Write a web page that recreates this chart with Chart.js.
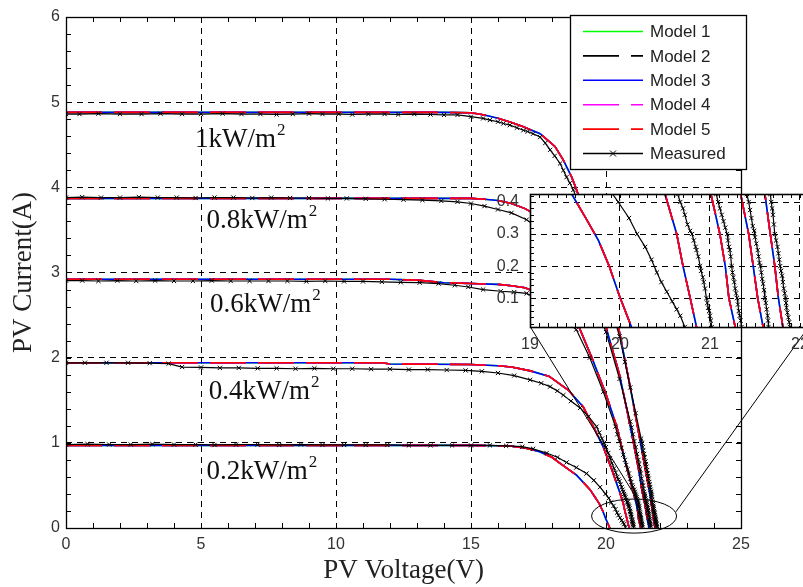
<!DOCTYPE html>
<html>
<head>
<meta charset="utf-8">
<title>PV I-V curves</title>
<script src="https://cdn.jsdelivr.net/npm/chart.js@4.4.1/dist/chart.umd.min.js"></script>
<style>
  html, body { margin: 0; padding: 0; overflow: hidden; background: #fff; }
  #wrap { position: relative; width: 803px; height: 587px; overflow: hidden; }
  #main { position: absolute; left: 0; top: 0; }
  #inset { position: absolute; left: 480px; top: 170px; }
</style>
</head>
<body>
<div id="wrap">
  <canvas id="main" width="803" height="587"></canvas>
  <canvas id="inset" width="340" height="190"></canvas>
</div>
<script>
// data, [voltage (V), current (A)]

// model curves (the five models sit on top of each other)
const model1000 = [[0,4.88],[5,4.88],[10,4.88],[14,4.88],[15,4.875],[15.5,4.85],[16,4.81],[16.5,4.76],[16.94,4.71],[17.56,4.63],[18.11,4.48],[18.42,4.32],[18.73,4.12],[18.91,3.97],[19.3,3.62],[19.7,3.22],[20.1,2.78],[20.5,2.3],[20.9,1.65],[21.25,1.05],[21.45,0.7],[21.61,0.425],[21.67,0.3],[21.72,0.2],[21.76,0.1],[21.81,0.01],[21.82,0]];
const model800 = [[0,3.87],[5,3.87],[10,3.87],[15,3.87],[15.5,3.86],[16,3.845],[16.5,3.81],[17,3.75],[17.5,3.66],[18,3.52],[18.5,3.33],[19,3.08],[19.5,2.76],[20,2.36],[20.5,1.8],[20.8,1.35],[21.05,0.95],[21.2,0.7],[21.34,0.425],[21.43,0.3],[21.48,0.2],[21.53,0.1],[21.59,0.01],[21.6,0]];
const model600 = [[0,2.92],[5,2.92],[10,2.92],[12,2.92],[13,2.91],[14,2.88],[15,2.87],[16,2.86],[16.5,2.845],[17,2.82],[17.5,2.76],[18,2.67],[18.5,2.53],[19,2.36],[19.5,1.98],[20,1.57],[20.4,1.19],[20.7,0.8],[21.01,0.425],[21.11,0.3],[21.17,0.2],[21.21,0.1],[21.28,0.01],[21.29,0]];
const model400 = [[0,1.94],[5,1.94],[10,1.94],[11.7,1.94],[12,1.925],[15,1.92],[16,1.905],[16.5,1.89],[17.2,1.845],[17.9,1.78],[18.6,1.62],[19.16,1.42],[19.53,1.19],[19.9,0.95],[20.2,0.7],[20.5,0.425],[20.63,0.3],[20.7,0.2],[20.78,0.1],[20.85,0.01],[20.86,0]];
const model200 = [[0,0.97],[5,0.97],[10,0.97],[15,0.97],[16,0.965],[16.5,0.96],[17,0.94],[17.5,0.9],[18,0.83],[18.3,0.76],[18.91,0.62],[19.41,0.45],[19.62,0.35],[19.76,0.28],[19.88,0.2],[19.99,0.11],[20.1,0.03],[20.14,0]];

// measured points (very dense near open circuit)
const meas1000 = [[0,4.86],[0.5,4.86],[1.2,4.865],[2.0,4.86],[2.8,4.86],[3.5,4.865],[4.3,4.86],[5.0,4.86],[5.8,4.865],[6.5,4.86],[7.2,4.86],[7.8,4.855],[8.4,4.86],[9.0,4.865],[9.5,4.86],[10.1,4.86],[10.6,4.855],[11.2,4.86],[11.8,4.86],[12.3,4.855],[12.9,4.86],[13.5,4.855],[14.0,4.85],[14.5,4.85],[15.0,4.83],[15.45,4.81],[15.7,4.79],[16.0,4.77],[16.2,4.75],[16.44,4.73],[16.7,4.7],[16.94,4.67],[17.1,4.655],[17.3,4.63],[17.56,4.59],[17.75,4.52],[17.93,4.44],[18.1,4.37],[18.3,4.28],[18.42,4.2],[18.54,4.12],[18.66,4.05],[18.79,3.97],[19.0,3.8],[19.2,3.6],[19.4,3.4],[19.6,3.2],[19.8,3.0],[20.0,2.78],[20.25,2.52],[20.5,2.25],[20.7,1.95],[20.9,1.65],[21.1,1.35],[21.3,1.05],[21.33,1.0],[21.36,0.95],[21.38,0.91],[21.41,0.87],[21.43,0.83],[21.46,0.78],[21.48,0.75],[21.5,0.72],[21.52,0.68],[21.54,0.64],[21.56,0.61],[21.58,0.58],[21.6,0.54],[21.62,0.51],[21.635,0.48],[21.65,0.45],[21.67,0.425],[21.68,0.4],[21.69,0.38],[21.7,0.36],[21.71,0.33],[21.72,0.3],[21.735,0.28],[21.75,0.26],[21.76,0.24],[21.77,0.22],[21.78,0.2],[21.79,0.185],[21.8,0.17],[21.81,0.15],[21.82,0.13],[21.83,0.115],[21.84,0.1],[21.845,0.085],[21.85,0.07],[21.86,0.055],[21.87,0.04],[21.88,0.025],[21.89,0.01]];
const meas800 = [[0,3.88],[0.6,3.885],[1.3,3.88],[2.0,3.88],[2.7,3.885],[3.4,3.88],[4.1,3.88],[4.8,3.875],[5.5,3.88],[6.2,3.88],[6.9,3.875],[7.6,3.88],[8.3,3.875],[9.0,3.875],[9.7,3.87],[10.4,3.87],[11.1,3.865],[11.8,3.86],[12.5,3.855],[13.2,3.85],[13.9,3.84],[14.5,3.83],[15.0,3.81],[15.5,3.78],[16.0,3.74],[16.5,3.7],[17.06,3.62],[17.5,3.52],[18.0,3.38],[18.5,3.2],[19.0,2.98],[19.5,2.68],[20.0,2.3],[20.5,1.75],[20.9,1.25],[20.95,1.18],[21.0,1.1],[21.05,1.02],[21.1,0.95],[21.15,0.87],[21.2,0.8],[21.23,0.75],[21.26,0.69],[21.29,0.64],[21.32,0.58],[21.35,0.53],[21.37,0.5],[21.39,0.46],[21.41,0.425],[21.43,0.4],[21.445,0.375],[21.46,0.35],[21.475,0.325],[21.49,0.31],[21.5,0.29],[21.515,0.27],[21.53,0.25],[21.54,0.23],[21.55,0.21],[21.56,0.2],[21.57,0.18],[21.58,0.16],[21.59,0.145],[21.6,0.125],[21.61,0.1],[21.62,0.085],[21.63,0.065],[21.64,0.045],[21.645,0.03],[21.65,0.01]];
const meas600 = [[0,2.905],[0.6,2.905],[1.2,2.9],[1.9,2.905],[2.6,2.9],[3.3,2.905],[4.0,2.9],[4.7,2.9],[5.4,2.905],[6.1,2.9],[6.8,2.9],[7.5,2.9],[8.2,2.9],[8.9,2.895],[9.6,2.9],[10.3,2.895],[11.0,2.895],[11.7,2.89],[12.4,2.885],[13.1,2.88],[13.8,2.87],[14.4,2.85],[14.9,2.83],[15.45,2.8],[16.1,2.78],[16.6,2.77],[17.06,2.755],[17.5,2.68],[18.0,2.56],[18.5,2.43],[18.9,2.33],[19.4,2.0],[19.9,1.6],[20.35,1.19],[20.42,1.1],[20.5,1.02],[20.57,0.94],[20.64,0.86],[20.7,0.8],[20.75,0.74],[20.8,0.69],[20.85,0.64],[20.9,0.58],[20.94,0.54],[20.97,0.5],[21.0,0.48],[21.04,0.45],[21.07,0.425],[21.09,0.4],[21.11,0.38],[21.13,0.36],[21.15,0.34],[21.17,0.32],[21.19,0.3],[21.2,0.28],[21.21,0.26],[21.22,0.25],[21.23,0.23],[21.24,0.2],[21.25,0.18],[21.26,0.165],[21.27,0.15],[21.28,0.13],[21.29,0.115],[21.3,0.1],[21.31,0.08],[21.32,0.06],[21.33,0.045],[21.34,0.03],[21.35,0.01]];
const meas400 = [[0,1.94],[0.7,1.94],[1.5,1.94],[2.3,1.94],[3.1,1.935],[3.8,1.93],[4.3,1.89],[5.0,1.885],[5.7,1.88],[6.4,1.88],[7.1,1.875],[7.8,1.875],[8.5,1.87],[9.2,1.875],[9.9,1.87],[10.6,1.87],[11.3,1.865],[12.0,1.865],[12.7,1.86],[13.4,1.86],[14.1,1.855],[14.8,1.85],[15.4,1.84],[16.0,1.82],[16.6,1.79],[17.19,1.74],[17.6,1.7],[17.93,1.66],[18.2,1.61],[18.42,1.56],[18.7,1.49],[19.04,1.41],[19.35,1.31],[19.65,1.19],[19.75,1.12],[19.85,1.05],[19.93,1.0],[20.0,0.95],[20.08,0.88],[20.15,0.82],[20.22,0.76],[20.3,0.7],[20.36,0.65],[20.42,0.6],[20.46,0.57],[20.5,0.55],[20.54,0.51],[20.58,0.48],[20.61,0.45],[20.64,0.425],[20.67,0.4],[20.7,0.38],[20.72,0.36],[20.75,0.33],[20.78,0.31],[20.8,0.3],[20.82,0.28],[20.84,0.26],[20.85,0.25],[20.87,0.23],[20.89,0.2],[20.9,0.185],[20.92,0.165],[20.93,0.15],[20.945,0.13],[20.96,0.1],[20.97,0.085],[20.98,0.07],[20.99,0.06],[21.0,0.045],[21.01,0.03],[21.02,0.01]];
const meas200 = [[0,0.98],[0.8,0.985],[1.6,0.98],[2.4,0.98],[3.2,0.985],[4.0,0.98],[4.8,0.98],[5.5,0.975],[6.3,0.98],[7.1,0.98],[7.9,0.975],[8.7,0.98],[9.5,0.975],[10.3,0.975],[11.1,0.975],[11.9,0.975],[12.7,0.97],[13.5,0.97],[14.3,0.97],[15.0,0.97],[15.7,0.97],[16.3,0.965],[16.9,0.955],[17.3,0.93],[17.8,0.88],[18.2,0.83],[18.54,0.77],[18.9,0.71],[19.28,0.64],[19.55,0.56],[19.78,0.48],[19.98,0.4],[20.1,0.35],[20.19,0.3],[20.28,0.26],[20.35,0.22],[20.41,0.18],[20.46,0.15],[20.52,0.12],[20.58,0.09],[20.63,0.065],[20.67,0.045],[20.72,0.01]];

const levelLabels = ['1kW/m', '0.8kW/m', '0.6kW/m', '0.4kW/m', '0.2kW/m'];
const mainXTicks = [0, 5, 10, 15, 20, 25];
const mainYTicks = [0, 1, 2, 3, 4, 5, 6];
const insetXTicks = [19, 20, 21, 22];
const insetYTicks = [0.1, 0.2, 0.3, 0.4];

// where the irradiance labels sit, [V, A] of the text baseline start
const labelPos = [[4.78, 4.47], [5.2, 3.52], [5.33, 2.54], [5.29, 1.515], [5.2, 0.575]];

const modelStyles = [
  { label: 'Model 1', color: '#00ff00', dash: [] },
  { label: 'Model 2', color: '#000000', dash: [36, 12] },
  { label: 'Model 3', color: '#0000ff', dash: [] },
  { label: 'Model 4', color: '#ff00ff', dash: [36, 12] },
  { label: 'Model 5', color: '#ff0000', dash: [36, 12] }
];

const gridDash = [6, 5];
const sans = 'Liberation Sans';
const serif = 'Liberation Serif';

// stitch the five irradiance curves into one dataset, null breaks the line
function joinCurves(curves) {
  const pts = [];
  curves.forEach((c, k) => {
    if (k > 0) pts.push({ x: c[0][0], y: null });
    c.forEach(p => pts.push({ x: p[0], y: p[1] }));
  });
  return pts;
}

function makeDatasets() {
  const ds = [{
    label: 'Measured',
    data: joinCurves([meas1000, meas800, meas600, meas400, meas200]),
    borderColor: '#000',
    borderWidth: 1.2,
    pointStyle: 'crossRot',
    pointRadius: 3,
    pointBorderWidth: 1,
    pointBorderColor: '#000',
    pointBackgroundColor: '#000'
  }];
  // first dataset is drawn on top, so models go in reverse
  for (let k = modelStyles.length - 1; k >= 0; k--) {
    const m = modelStyles[k];
    ds.push({
      label: m.label,
      data: joinCurves([model1000, model800, model600, model400, model200]),
      borderColor: m.color,
      borderDash: m.dash,
      borderWidth: 1.6,
      pointRadius: 0
    });
  }
  return ds;
}

function setTicks(list) {
  return s => { s.ticks = list.map(v => ({ value: v })); };
}

function drawMinorTicks(ctx, a, x, y, xStep, xFrom, xTo, yStep, yFrom, yTo, len) {
  ctx.beginPath();
  for (let v = xFrom; v <= xTo + 1e-9; v += xStep) {
    const px = Math.round(x.getPixelForValue(v)) + 0.5;
    if (px < a.left || px > a.right) continue;
    ctx.moveTo(px, a.bottom); ctx.lineTo(px, a.bottom - len);
    ctx.moveTo(px, a.top); ctx.lineTo(px, a.top + len);
  }
  for (let v = yFrom; v <= yTo + 1e-9; v += yStep) {
    const py = Math.round(y.getPixelForValue(v)) + 0.5;
    if (py < a.top || py > a.bottom) continue;
    ctx.moveTo(a.left, py); ctx.lineTo(a.left + len, py);
    ctx.moveTo(a.right, py); ctx.lineTo(a.right - len, py);
  }
  ctx.stroke();
}

function drawLegend(chart) {
  const ctx = chart.ctx;
  ctx.save();
  ctx.fillStyle = '#fff';
  ctx.fillRect(570, 15, 177, 155);
  ctx.strokeStyle = '#000';
  ctx.lineWidth = 1.3;
  ctx.strokeRect(570.5, 15.5, 176, 154);
  ctx.font = '17px "' + sans + '"';
  ctx.textBaseline = 'middle';
  const names = modelStyles.map(m => m.label).concat(['Measured']);
  names.forEach((name, k) => {
    const yy = 31.5 + k * 24.4;
    ctx.setLineDash(k < 5 ? modelStyles[k].dash : []);
    ctx.strokeStyle = k < 5 ? modelStyles[k].color : '#000';
    ctx.lineWidth = 1.6;
    ctx.beginPath();
    ctx.moveTo(583, yy); ctx.lineTo(643, yy);
    ctx.stroke();
    ctx.setLineDash([]);
    if (k === 5) {
      ctx.lineWidth = 1;
      ctx.beginPath();
      ctx.moveTo(610, yy - 3); ctx.lineTo(616, yy + 3);
      ctx.moveTo(610, yy + 3); ctx.lineTo(616, yy - 3);
      ctx.stroke();
    }
    ctx.fillStyle = '#222';
    ctx.fillText(name, 650, yy + 1);
  });
  ctx.restore();
}

const mainDecor = {
  id: 'mainDecor',
  afterDatasetsDraw(chart) {
    const { ctx, scales: { x, y } } = chart;
    ctx.save();
    // irradiance labels
    ctx.fillStyle = '#111';
    ctx.textBaseline = 'alphabetic';
    levelLabels.forEach((t, k) => {
      const px = x.getPixelForValue(labelPos[k][0]);
      const py = y.getPixelForValue(labelPos[k][1]);
      ctx.font = '27px "' + serif + '"';
      ctx.fillText(t, px, py);
      const w = ctx.measureText(t).width;
      ctx.font = '17px "' + serif + '"';
      ctx.fillText('2', px + w + 1, py - 12);
    });
    // zoom ellipse and the two lines to the inset
    ctx.strokeStyle = '#000';
    ctx.lineWidth = 1;
    const cx = x.getPixelForValue(21.04), cy = y.getPixelForValue(0.14);
    const rx = x.getPixelForValue(22.614) - cx, ry = cy - y.getPixelForValue(0.34);
    ctx.beginPath();
    ctx.ellipse(cx, cy, rx, ry, 0, 0, Math.PI * 2);
    ctx.stroke();
    ctx.beginPath();
    ctx.moveTo(x.getPixelForValue(17.2), y.getPixelForValue(2.36));
    ctx.lineTo(x.getPixelForValue(21.15), y.getPixelForValue(0.34));
    ctx.moveTo(x.getPixelForValue(22.59), y.getPixelForValue(0.19));
    ctx.lineTo(x.getPixelForValue(27.5), y.getPixelForValue(2.36));
    ctx.stroke();
    ctx.restore();
  },
  afterDraw(chart) {
    const { ctx, chartArea: a, scales: { x, y } } = chart;
    ctx.save();
    ctx.strokeStyle = '#000';
    ctx.lineWidth = 1.3;
    ctx.strokeRect(a.left + 0.5, a.top + 0.5, a.right - a.left, a.bottom - a.top);
    ctx.lineWidth = 1;
    drawMinorTicks(ctx, a, x, y, 1, 0, 25, 0.2, 0, 6, 5);
    ctx.restore();
    drawLegend(chart);
  }
};

const insetDecor = {
  id: 'insetDecor',
  beforeDraw(chart) {
    const { ctx, chartArea: a } = chart;
    ctx.save();
    ctx.fillStyle = '#fff';
    ctx.fillRect(a.left, a.top, a.right - a.left, a.bottom - a.top);
    ctx.restore();
  },
  afterDraw(chart) {
    const { ctx, chartArea: a, scales: { x, y } } = chart;
    ctx.save();
    ctx.strokeStyle = '#000';
    ctx.lineWidth = 1.6;
    ctx.strokeRect(a.left + 0.5, a.top + 0.5, a.right - a.left, a.bottom - a.top);
    ctx.lineWidth = 1;
    drawMinorTicks(ctx, a, x, y, 0.1, 19, 22.1, 0.02, 0, 0.42, 4);
    // the big plot's right border shows through the inset
    ctx.beginPath();
    ctx.moveTo(261.5, a.top); ctx.lineTo(261.5, a.bottom);
    ctx.stroke();
    ctx.restore();
  }
};

Chart.defaults.font.family = sans;

new Chart(document.getElementById('main'), {
  type: 'line',
  data: { datasets: makeDatasets() },
  options: {
    responsive: false,
    animation: false,
    events: [],
    layout: { padding: { top: 17, right: 62, left: 0, bottom: 0 } },
    plugins: { legend: { display: false }, tooltip: { enabled: false } },
    scales: {
      x: {
        type: 'linear', min: 0, max: 25,
        afterBuildTicks: setTicks(mainXTicks),
        ticks: { padding: 7, color: '#333', font: { size: 16 } },
        grid: { color: '#000', lineWidth: 1, drawTicks: false },
        border: { display: false, dash: gridDash },
        title: { display: true, text: 'PV Voltage(V)', color: '#222', font: { family: serif, size: 27 }, padding: { top: 0, bottom: 0 } },
        afterFit: s => { s.height = 59; }
      },
      y: {
        type: 'linear', min: 0, max: 6,
        afterBuildTicks: setTicks(mainYTicks),
        ticks: { padding: 6, color: '#333', font: { size: 16 } },
        grid: { color: '#000', lineWidth: 1, drawTicks: false },
        border: { display: false, dash: gridDash },
        title: { display: true, text: 'PV Current(A)', color: '#222', font: { family: serif, size: 27 }, padding: { top: 8, bottom: 0 } },
        afterFit: s => { s.width = 66; }
      }
    }
  },
  plugins: [mainDecor]
});

new Chart(document.getElementById('inset'), {
  type: 'line',
  data: { datasets: makeDatasets() },
  options: {
    responsive: false,
    animation: false,
    events: [],
    layout: { padding: { top: 24, right: 11, left: 0, bottom: 0 } },
    plugins: { legend: { display: false }, tooltip: { enabled: false } },
    scales: {
      x: {
        type: 'linear', min: 19, max: 22.1,
        afterBuildTicks: setTicks(insetXTicks),
        ticks: { padding: 8, color: '#333', font: { size: 16 } },
        grid: { color: '#000', lineWidth: 1, drawTicks: false },
        border: { display: false, dash: gridDash },
        afterFit: s => { s.height = 33; }
      },
      y: {
        type: 'linear', min: 0.01, max: 0.425,
        afterBuildTicks: setTicks(insetYTicks),
        ticks: { padding: 11, color: '#333', font: { size: 16 } },
        grid: { color: '#000', lineWidth: 1, drawTicks: false },
        border: { display: false, dash: gridDash },
        afterFit: s => { s.width = 50; }
      }
    }
  },
  plugins: [insetDecor]
});
</script>
</body>
</html>
